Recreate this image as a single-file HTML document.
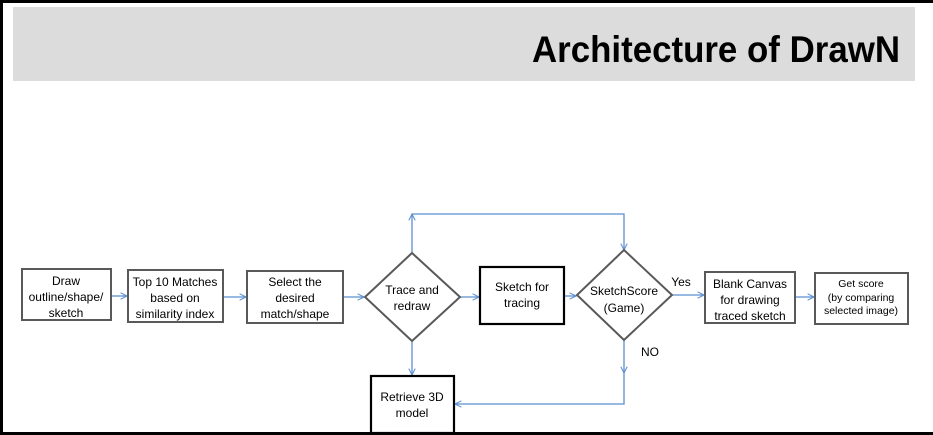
<!DOCTYPE html>
<html><head><meta charset="utf-8"><style>
html,body{margin:0;padding:0;background:#fff;}
svg{display:block;}
text{font-family:"Liberation Sans",Arial,sans-serif;}
</style></head><body>
<svg width="933" height="435" viewBox="0 0 933 435" xmlns="http://www.w3.org/2000/svg">
<defs>
<marker id="a" viewBox="0 0 10 10" refX="9" refY="5" markerWidth="8" markerHeight="8" orient="auto" markerUnits="userSpaceOnUse">
<path d="M1,1 L9,5 L1,9" fill="none" stroke="#5b8fd0" stroke-width="1.3"/>
</marker>
</defs>
<rect width="933" height="435" fill="#fff"/>
<rect x="0" y="0" width="933" height="3" fill="#000"/>
<rect x="0" y="0" width="3" height="435" fill="#000"/>
<rect x="0" y="432" width="933" height="3" fill="#000"/>
<rect x="13" y="7" width="902" height="74" fill="#dcdcdc"/>
<text x="900" y="62" text-anchor="end" font-size="37" font-weight="bold" fill="#000" textLength="368" lengthAdjust="spacingAndGlyphs">Architecture of DrawN</text>

<g fill="none" stroke="#5b8fd0" stroke-width="1.3">
<line x1="111" y1="296" x2="127" y2="296" marker-end="url(#a)"/>
<line x1="223" y1="297" x2="246" y2="297" marker-end="url(#a)"/>
<line x1="343" y1="297" x2="364" y2="297" marker-end="url(#a)"/>
<line x1="460" y1="297" x2="479" y2="297" marker-end="url(#a)"/>
<line x1="564" y1="296" x2="576" y2="296" marker-end="url(#a)"/>
<line x1="672" y1="295" x2="704" y2="295" marker-end="url(#a)"/>
<line x1="795" y1="297" x2="814" y2="297" marker-end="url(#a)"/>
<polyline points="412,253 412,214" marker-end="url(#a)"/>
<polyline points="412,214 624,214 624,250" marker-end="url(#a)"/>
<line x1="412" y1="341" x2="412" y2="375" marker-end="url(#a)"/>
<line x1="624" y1="340" x2="624" y2="373" marker-end="url(#a)"/>
<polyline points="624,373 624,404 455,404" marker-end="url(#a)"/>
</g>

<g fill="#fff" stroke="#595959" stroke-width="2">
<rect x="22" y="269" width="89" height="51"/>
<rect x="128" y="270" width="95" height="52"/>
<rect x="247" y="271" width="96" height="52"/>
<polygon points="412,253 460,297 412,341 365,297"/>
<polygon points="624,250 672,295 624,340 577,295"/>
<rect x="705" y="272" width="90" height="51"/>
<rect x="815" y="273" width="93" height="51"/>
</g>
<g fill="#fff" stroke="#000" stroke-width="2.2">
<rect x="480" y="267" width="84" height="57"/>
<rect x="371" y="376" width="83" height="57"/>
</g>

<g font-size="12" fill="#000" text-anchor="middle">
<text x="66" y="285">Draw</text>
<text x="66" y="301">outline/shape/</text>
<text x="66" y="317">sketch</text>
<text x="175" y="286">Top 10 Matches</text>
<text x="175" y="302">based on</text>
<text x="175" y="318">similarity index</text>
<text x="295" y="286">Select the</text>
<text x="295" y="302">desired</text>
<text x="295" y="318">match/shape</text>
<text x="412" y="294">Trace and</text>
<text x="412" y="310">redraw</text>
<text x="522" y="291">Sketch for</text>
<text x="522" y="307">tracing</text>
<text x="624" y="295">SketchScore</text>
<text x="624" y="312">(Game)</text>
<text x="681" y="286">Yes</text>
<text x="650" y="356">NO</text>
<text x="750" y="288">Blank Canvas</text>
<text x="750" y="304">for drawing</text>
<text x="750" y="320">traced sketch</text>
<text x="412" y="401">Retrieve 3D</text>
<text x="412" y="417">model</text>
</g>
<g font-size="10.5" fill="#000" text-anchor="middle">
<text x="861" y="287">Get score</text>
<text x="861" y="301">(by comparing</text>
<text x="861" y="314">selected image)</text>
</g>
</svg>
</body></html>
